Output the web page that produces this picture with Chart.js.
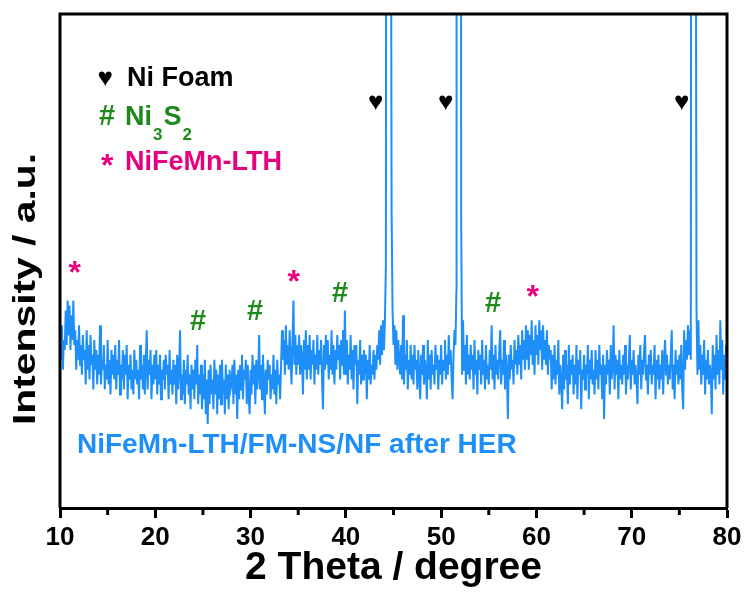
<!DOCTYPE html>
<html><head><meta charset="utf-8">
<script src="https://cdn.jsdelivr.net/npm/chart.js@4.4.1/dist/chart.umd.min.js"></script>
<style>html,body{margin:0;padding:0;background:#fff;}canvas{display:block;}</style>
</head><body>
<canvas id="c" width="749" height="592"></canvas>
<script>
// ---- data ----
const thetaStart = 10;      // first 2θ sample
const thetaStep = 0.1;      // 2θ sampling step
// background pattern intensity (a.u.), one row per degree; null = sample covered by a sharp Ni reflection
const intensity = [
  35, 30, 37, 28, 34, 32, 40, 33, 42, 35,   // 10
  41, 32, 39, 34, 42, 33, 36, 28, 34, 30,   // 11
  37, 29, 33, 27, 35, 30, 32, 25, 36, 28,   // 12
  33, 26, 35, 29, 31, 24, 34, 28, 32, 25,   // 13
  31, 27, 37, 25, 30, 28, 33, 24, 29, 26,   // 14
  34, 25, 30, 23, 32, 27, 31, 26, 33, 24,   // 15
  30, 27, 34, 23, 29, 26, 32, 24, 31, 27,   // 16
  33, 22, 29, 26, 31, 24, 28, 23, 32, 26,   // 17
  30, 25, 28, 22, 33, 26, 29, 24, 31, 23,   // 18
  29, 36, 24, 30, 27, 32, 22, 29, 25, 31,   // 19
  26, 32, 23, 29, 25, 31, 22, 28, 26, 30,   // 20
  24, 31, 27, 29, 22, 32, 25, 28, 23, 30,   // 21
  25, 29, 21, 31, 24, 28, 36, 22, 27, 23,   // 22
  30, 21, 28, 25, 31, 23, 27, 20, 29, 24,   // 23
  28, 22, 30, 25, 33, 21, 27, 23, 29, 20,   // 24
  27, 22, 30, 19, 26, 17, 28, 21, 29, 23,   // 25
  26, 20, 30, 23, 28, 19, 27, 22, 29, 21,   // 26
  30, 23, 26, 19, 29, 22, 27, 20, 28, 24,   // 27
  25, 29, 21, 30, 23, 27, 18, 28, 22, 29,   // 28
  24, 31, 22, 28, 26, 30, 21, 29, 23, 19,   // 29
  28, 23, 31, 25, 29, 21, 30, 24, 27, 35,   // 30
  24, 29, 22, 31, 25, 19, 28, 23, 30, 26,   // 31
  29, 22, 27, 24, 31, 23, 28, 21, 30, 25,   // 32
  27, 22, 29, 36, 30, 34, 27, 37, 29, 33,   // 33
  28, 36, 30, 25, 34, 42, 29, 35, 27, 33,   // 34
  29, 35, 27, 33, 30, 23, 34, 28, 36, 26,   // 35
  33, 28, 35, 26, 32, 29, 34, 25, 31, 28,   // 36
  35, 27, 32, 29, 34, 26, 20, 33, 28, 35,   // 37
  29, 34, 26, 31, 28, 36, 27, 33, 25, 32,   // 38
  28, 35, 30, 33, 26, 34, 29, 36, 27, 40,   // 39
  27, 34, 25, 31, 28, 35, 26, 32, 24, 33,   // 40
  29, 33, 21, 30, 27, 34, 25, 31, 26, 32,   // 41
  27, 31, 22, 30, 26, 33, 25, 29, 27, 32,   // 42
  26, 31, 28, 33, 30, 36, 29, 37, 31, 38,   // 43
  32, 38, 49, null, null, null, null, null, 60, 40,   // 44
  33, 37, 29, 36, 28, 34, 30, 27, 33, 26,   // 45
  39, 25, 31, 28, 34, 24, 30, 27, 33, 26,   // 46
  31, 25, 33, 28, 30, 24, 32, 27, 22, 31,   // 47
  27, 33, 25, 30, 28, 22, 34, 26, 31, 24,   // 48
  32, 27, 29, 25, 33, 28, 31, 24, 30, 27,   // 49
  33, 25, 30, 28, 34, 26, 31, 27, 35, 29,   // 50
  32, 26, 22, 31, 36, 33, 44, null, null, null,   // 51
  null, 60, 27, 38, 28, 33, 25, 35, 27, 31,   // 52
  26, 33, 28, 31, 24, 34, 27, 30, 23, 32,   // 53
  28, 31, 25, 34, 27, 30, 24, 33, 26, 29,   // 54
  25, 32, 28, 37, 26, 31, 24, 33, 27, 30,   // 55
  26, 32, 36, 25, 30, 27, 34, 24, 31, 28,   // 56
  18, 31, 26, 33, 28, 30, 25, 34, 29, 32,   // 57
  27, 35, 29, 33, 26, 36, 30, 34, 28, 37,   // 58
  30, 36, 28, 35, 31, 38, 29, 34, 27, 37,   // 59
  31, 35, 29, 38, 32, 36, 28, 37, 30, 34,   // 60
  29, 36, 27, 33, 30, 32, 24, 31, 26, 33,   // 61
  25, 30, 27, 34, 23, 29, 26, 20, 31, 24,   // 62
  32, 26, 29, 21, 33, 25, 30, 27, 31, 23,   // 63
  29, 25, 33, 22, 30, 27, 32, 20, 28, 26,   // 64
  31, 24, 29, 27, 33, 22, 30, 26, 32, 25,   // 65
  28, 23, 32, 26, 30, 24, 33, 27, 29, 22,   // 66
  31, 18, 29, 25, 32, 27, 30, 23, 33, 26,   // 67
  29, 37, 24, 31, 27, 30, 22, 32, 26, 29,   // 68
  25, 31, 27, 33, 23, 29, 26, 30, 35, 24,   // 69
  30, 27, 32, 25, 29, 26, 21, 31, 27, 33,   // 70
  24, 30, 27, 32, 35, 26, 29, 23, 31, 27,   // 71
  32, 25, 29, 27, 33, 22, 30, 26, 31, 24,   // 72
  29, 26, 32, 23, 30, 34, 27, 31, 25, 29,   // 73
  26, 31, 36, 24, 29, 22, 32, 27, 30, 25,   // 74
  31, 26, 33, 24, 20, 36, 28, 34, 30, 37,   // 75
  31, 36, 30, null, null, null, null, null, 40, 27,   // 76
  38, 28, 33, 25, 31, 27, 34, 23, 30, 26,   // 77
  32, 25, 29, 27, 19, 33, 26, 31, 24, 35,   // 78
  27, 32, 25, 38, 28, 34, 23, 31, 26, 33,   // 79
  30                                        // 80
];
// sharp Ni foam reflections (go far off scale)
const peakTheta     = [44.24, 44.70, 51.62, 52.08, 76.25, 76.70];
const peakIntensity = [160, 160, 160, 160, 160, 160];
// axis ticks
const xTicks = [10, 20, 30, 40, 50, 60, 70, 80];
const minorTicks = [15, 25, 35, 45, 55, 65, 75];
// phase markers (2θ, intensity position)
const niFoamTheta = [43.16, 50.51, 75.27];
const niFoamY     = [82, 82, 82];
const ni3s2Theta  = [24.48, 30.46, 39.38, 55.44];
const ni3s2Y      = [38.1, 40.1, 43.7, 41.7];
const lthTheta    = [11.57, 34.56, 59.64];
const lthY        = [48.8, 47.0, 43.9];

const BLUE = '#1E8EF8', GREEN = '#1E8A1E', PINK = '#E6007E';
const FAM = '"Liberation Sans", Arial, Helvetica, sans-serif';

// ---- build line points ----
const pts = [];
intensity.forEach((v, i) => { if (v !== null) pts.push({x: +(thetaStart + i * thetaStep).toFixed(2), y: v}); });
peakTheta.forEach((t, i) => pts.push({x: t, y: peakIntensity[i]}));
pts.sort((a, b) => a.x - b.x);

function inkCenter(ctx, text, cx, cy) {
  ctx.textAlign = 'left'; ctx.textBaseline = 'alphabetic';
  const m = ctx.measureText(text);
  const L = m.actualBoundingBoxLeft, R = m.actualBoundingBoxRight;
  const A = m.actualBoundingBoxAscent, D = m.actualBoundingBoxDescent;
  ctx.fillText(text, cx - (R - L) / 2, cy + (A - D) / 2);
}

const decor = {
  id: 'decor',
  afterDraw(chart) {
    const ctx = chart.ctx, a = chart.chartArea, xs = chart.scales.x, ys = chart.scales.y;
    ctx.save();
    // frame
    ctx.strokeStyle = '#000'; ctx.lineWidth = 3; ctx.lineJoin = 'miter';
    ctx.beginPath();
    ctx.moveTo(a.left, a.bottom); ctx.lineTo(a.left, a.top); ctx.lineTo(a.right, a.top); ctx.lineTo(a.right, a.bottom);
    ctx.stroke();
    // minor ticks
    minorTicks.forEach(v => {
      const px = xs.getPixelForValue(v);
      ctx.beginPath(); ctx.moveTo(px, a.bottom); ctx.lineTo(px, a.bottom + 7); ctx.stroke();
    });
    // y title
    ctx.save();
    ctx.fillStyle = '#000';
    ctx.font = 'bold 40px ' + FAM;
    const t = 'Intensity / a.u.';
    const w = ctx.measureText(t).width;
    ctx.translate(35, 289); ctx.rotate(-Math.PI / 2); ctx.scale(272 / w, 0.77);
    ctx.textAlign = 'center'; ctx.textBaseline = 'alphabetic';
    ctx.fillText(t, 0, 0);
    ctx.restore();
    // legend
    ctx.fillStyle = '#000';
    ctx.font = 'bold 26px ' + FAM; inkCenter(ctx, '\u2665', 105.5, 78.5);
    ctx.font = 'bold 27px ' + FAM; ctx.textAlign = 'left'; ctx.textBaseline = 'alphabetic';
    ctx.fillText('Ni Foam', 127, 86);
    ctx.fillStyle = GREEN;
    ctx.font = 'bold 29px ' + FAM; inkCenter(ctx, '#', 107, 115);
    ctx.textAlign = 'left'; ctx.textBaseline = 'alphabetic';
    let x = 125;
    const seq = [['Ni', 27, 125], ['3', 17, 140], ['S', 27, 125], ['2', 17, 140]];
    seq.forEach(([s, f, b]) => { ctx.font = 'bold ' + f + 'px ' + FAM; ctx.fillText(s, x, b); x += ctx.measureText(s).width + 1; });
    ctx.fillStyle = PINK;
    ctx.font = 'bold 32px ' + FAM; inkCenter(ctx, '*', 107.5, 160);
    ctx.font = 'bold 27px ' + FAM; ctx.textAlign = 'left'; ctx.textBaseline = 'alphabetic';
    ctx.fillText('NiFeMn-LTH', 125, 170);
    // phase markers
    ctx.fillStyle = '#000'; ctx.font = 'bold 26px ' + FAM;
    niFoamTheta.forEach((t2, i) => inkCenter(ctx, '\u2665', xs.getPixelForValue(t2), ys.getPixelForValue(niFoamY[i])));
    ctx.fillStyle = GREEN; ctx.font = 'bold 29px ' + FAM;
    ni3s2Theta.forEach((t2, i) => inkCenter(ctx, '#', xs.getPixelForValue(t2), ys.getPixelForValue(ni3s2Y[i])));
    ctx.fillStyle = PINK; ctx.font = 'bold 32px ' + FAM;
    lthTheta.forEach((t2, i) => inkCenter(ctx, '*', xs.getPixelForValue(t2), ys.getPixelForValue(lthY[i])));
    // sample label
    ctx.fillStyle = BLUE; ctx.font = 'bold 28px ' + FAM; ctx.textAlign = 'left'; ctx.textBaseline = 'alphabetic';
    ctx.fillText('NiFeMn-LTH/FM-NS/NF after HER', 77, 453);
    ctx.restore();
  }
};

new Chart(document.getElementById('c'), {
  type: 'line',
  data: { datasets: [{
    data: pts, borderColor: BLUE, borderWidth: 2, pointRadius: 0, tension: 0, fill: false
  }]},
  options: {
    responsive: false, animation: false,
    layout: { padding: { left: 60, right: 22, top: 14, bottom: 0 } },
    plugins: { legend: { display: false }, tooltip: { enabled: false } },
    scales: {
      x: {
        type: 'linear', min: 10, max: 80, position: 'bottom',
        afterBuildTicks: s => { s.ticks = xTicks.map(v => ({ value: v })); },
        afterFit: s => { s.height = 84; },
        ticks: { font: { family: FAM, size: 26, weight: 'bold' }, color: '#000', padding: 4, maxRotation: 0, autoSkip: false },
        grid: { display: true, drawOnChartArea: false, drawTicks: true, tickLength: 10, tickWidth: 3, tickColor: '#000' },
        border: { display: true, color: '#000', width: 3 },
        title: { display: true, text: '2 Theta / degree', color: '#000', font: { family: FAM, size: 39, weight: 'bold' }, padding: { top: 0, bottom: 0 } }
      },
      y: { display: false, min: 0, max: 100 }
    }
  },
  plugins: [decor]
});
</script>
</body></html>
